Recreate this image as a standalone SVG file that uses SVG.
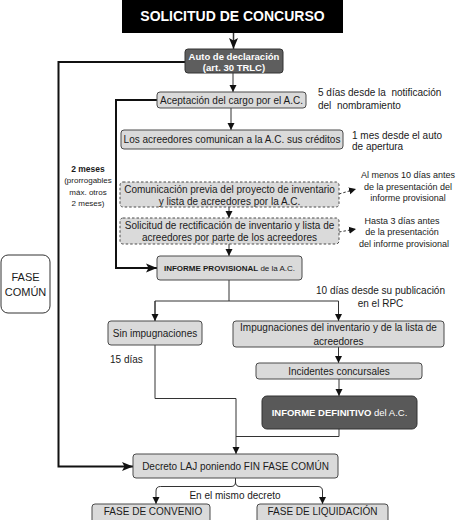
<svg xmlns="http://www.w3.org/2000/svg" width="474" height="520" viewBox="0 0 474 520">
<defs>
<style>
text{font-family:"Liberation Sans",Arial,sans-serif;fill:#1a1a1a;}
.c{text-anchor:middle;}
.t10{font-size:10px;}
.t9{font-size:9px;}
.t8{font-size:8px;}
.w{fill:#ffffff;}
.b{font-weight:bold;}
.lb{fill:#dadada;stroke:#4a4a4a;stroke-width:1;}
.db{fill:#5e5e5e;stroke:#333333;stroke-width:1;}
.ds{fill:#dadada;stroke:#4a4a4a;stroke-width:1;stroke-dasharray:2.5,2;}
.ln{fill:none;stroke:#333333;stroke-width:1;}
.th{fill:none;stroke:#111111;stroke-width:2;}
.dl{fill:none;stroke:#333333;stroke-width:1;stroke-dasharray:2.5,2;}
</style>
<marker id="a" markerUnits="userSpaceOnUse" markerWidth="8" markerHeight="8" refX="7" refY="4" orient="auto">
<path d="M0,0.5 L7,4 L0,7.5 z" fill="#111"/>
</marker>
<marker id="ab" markerUnits="userSpaceOnUse" markerWidth="12" markerHeight="10" refX="11" refY="5" orient="auto">
<path d="M0,0.5 L11,5 L0,9.5 L2.5,5 z" fill="#111"/>
</marker>
</defs>

<g id="connectors">
<line class="ln" x1="233.5" y1="33" x2="233.5" y2="49" marker-end="url(#ab)" style="stroke-width:1.5"/>
<line class="ln" x1="233" y1="73" x2="233" y2="92" marker-end="url(#a)"/>
<line class="ln" x1="231" y1="108" x2="231" y2="130" marker-end="url(#a)"/>
<path class="th" d="M185,62 H58.5 V466.5 H133" marker-end="url(#ab)"/>
<path class="th" d="M157,100 H116 V268 H157" marker-end="url(#ab)"/>
<path class="dl" d="M339,194 L356,189" marker-end="url(#a)"/>
<line class="ln" x1="229" y1="207" x2="229" y2="218" marker-end="url(#a)"/>
<path class="dl" d="M339,232 L356,229" marker-end="url(#a)"/>
<line class="ln" x1="229" y1="244" x2="229" y2="256" marker-end="url(#a)"/>
<path class="ln" d="M229,280 V301"/>
<path class="ln" d="M155,321 V301 H338.5 V321" marker-end="url(#a)"/>
<line class="ln" x1="155" y1="301" x2="155" y2="321" marker-end="url(#a)"/>
<line class="ln" x1="338.5" y1="347" x2="338.5" y2="363" marker-end="url(#a)"/>
<line class="ln" x1="339" y1="379" x2="339" y2="396" marker-end="url(#a)"/>
<path class="ln" d="M155,345 V398.5 H236"/>
<path class="ln" d="M339,429 V436.5 H236"/>
<line class="ln" x1="236" y1="398.5" x2="236" y2="454" marker-end="url(#a)"/>
<path class="ln" d="M235.5,478 V482 Q235.5,486.5 231,486.5 H160.5 Q156,486.5 156,491 V504" marker-end="url(#a)"/>
<path class="ln" d="M235.5,482 Q235.5,486.5 240,486.5 H318 Q322.5,486.5 322.5,491 V504" marker-end="url(#a)"/>
</g>

<g id="title">
<rect x="122" y="-1" width="221" height="34" fill="#000"/>
<text class="c b w" x="232.5" y="21" style="font-size:14px">SOLICITUD DE CONCURSO</text>
</g>

<g id="auto">
<rect class="db" x="185" y="49" width="98" height="24" rx="3"/>
<text class="c b w" x="234" y="59.5" style="font-size:9.5px">Auto de declaración</text>
<text class="c b w" x="234" y="70.5" style="font-size:9.5px">(art. 30 TRLC)</text>
</g>

<g id="aceptacion">
<rect class="lb" x="157" y="92" width="149" height="16" rx="3"/>
<text class="c t10" x="231.5" y="103.5">Aceptación del cargo por el A.C.</text>
</g>
<g id="note-aceptacion">
<text class="t10" x="318" y="96" xml:space="preserve">5 días desde la  notificación</text>
<text class="t10" x="318" y="108.5" xml:space="preserve">del  nombramiento</text>
</g>

<g id="acreedores">
<rect class="lb" x="121" y="130" width="222" height="19" rx="3"/>
<text class="c t10" x="232" y="143">Los acreedores comunican a la A.C. sus créditos</text>
</g>
<g id="note-acreedores">
<text class="t10" x="352" y="138.5">1 mes desde el auto</text>
<text class="t10" x="352" y="150">de apertura</text>
</g>

<g id="plazo">
<text class="c b" x="88" y="172" style="font-size:8.5px">2 meses</text>
<text class="c t8" x="88" y="183">(prorrogables</text>
<text class="c t8" x="88" y="195">máx. otros</text>
<text class="c t8" x="88" y="205.5">2 meses)</text>
</g>

<g id="comunicacion">
<rect class="ds" x="120" y="182" width="219" height="25" rx="3"/>
<text class="c t10" x="229.5" y="192.5">Comunicación previa del proyecto de inventario</text>
<text class="c t10" x="229.5" y="204.5">y lista de acreedores por la A.C.</text>
</g>
<g id="note-comunicacion">
<text class="c t9" x="408" y="178">Al menos 10 días antes</text>
<text class="c t9" x="408" y="189.5">de la presentación del</text>
<text class="c t9" x="408" y="200.5">informe provisional</text>
</g>

<g id="solicitud">
<rect class="ds" x="120" y="218" width="219" height="26" rx="3"/>
<text class="c t10" x="229.5" y="228.5">Solicitud de rectificación de inventario y lista de</text>
<text class="c t10" x="229.5" y="241">acreedores por parte de los acreedores</text>
</g>
<g id="note-solicitud">
<text class="c t9" x="402" y="223.5">Hasta 3 días antes</text>
<text class="c t9" x="402" y="235">de la presentación</text>
<text class="c t9" x="404" y="246.5">del informe provisional</text>
</g>

<g id="informe-provisional">
<rect class="lb" x="157" y="256" width="145" height="24" rx="3"/>
<text class="c t8" x="229.5" y="271"><tspan class="b">INFORME PROVISIONAL</tspan> de la A.C.</text>
</g>

<g id="fase-comun">
<rect x="1" y="255" width="49" height="58" rx="7" fill="#fff" stroke="#333" stroke-width="1"/>
<text class="c" x="25.5" y="281" style="font-size:11px">FASE</text>
<text class="c" x="25.5" y="296" style="font-size:11px">COMÚN</text>
</g>

<g id="note-publicacion">
<text class="c t10" x="380.5" y="294">10 días desde su publicación</text>
<text class="c t10" x="380.5" y="306.5">en el RPC</text>
</g>

<g id="sin-impugnaciones">
<rect class="lb" x="108" y="321" width="94" height="24" rx="3"/>
<text class="c t10" x="155" y="336.5">Sin impugnaciones</text>
</g>
<g id="note-15">
<text class="t10" x="110" y="362.5">15 días</text>
</g>

<g id="impugnaciones">
<rect class="lb" x="233" y="321" width="211" height="26" rx="3"/>
<text class="c t10" x="338.5" y="331">Impugnaciones del inventario y de la lista de</text>
<text class="c t10" x="338.5" y="344.5">acreedores</text>
</g>

<g id="incidentes">
<rect class="lb" x="256" y="363" width="166" height="16" rx="3"/>
<text class="c t10" x="339" y="374.5">Incidentes concursales</text>
</g>

<g id="informe-definitivo">
<rect class="db" x="262" y="396" width="155" height="33" rx="5" style="fill:#595959"/>
<text class="c w" x="339.5" y="415.5" style="font-size:9.5px"><tspan class="b">INFORME DEFINITIVO</tspan> del A.C.</text>
</g>

<g id="decreto">
<rect class="lb" x="133" y="454" width="205" height="24" rx="3"/>
<text class="c t10" x="235.5" y="469.5">Decreto LAJ poniendo FIN FASE COMÚN</text>
</g>
<g id="note-decreto">
<text class="c t10" x="235" y="498.5">En el mismo decreto</text>
</g>

<g id="fase-convenio">
<rect class="lb" x="92" y="504" width="118" height="24" rx="3"/>
<text class="c t10" x="153" y="514.5">FASE DE CONVENIO</text>
</g>

<g id="fase-liquidacion">
<rect class="lb" x="257" y="504" width="131" height="24" rx="3"/>
<text class="c t10" x="322.5" y="514.5">FASE DE LIQUIDACIÓN</text>
</g>
</svg>
